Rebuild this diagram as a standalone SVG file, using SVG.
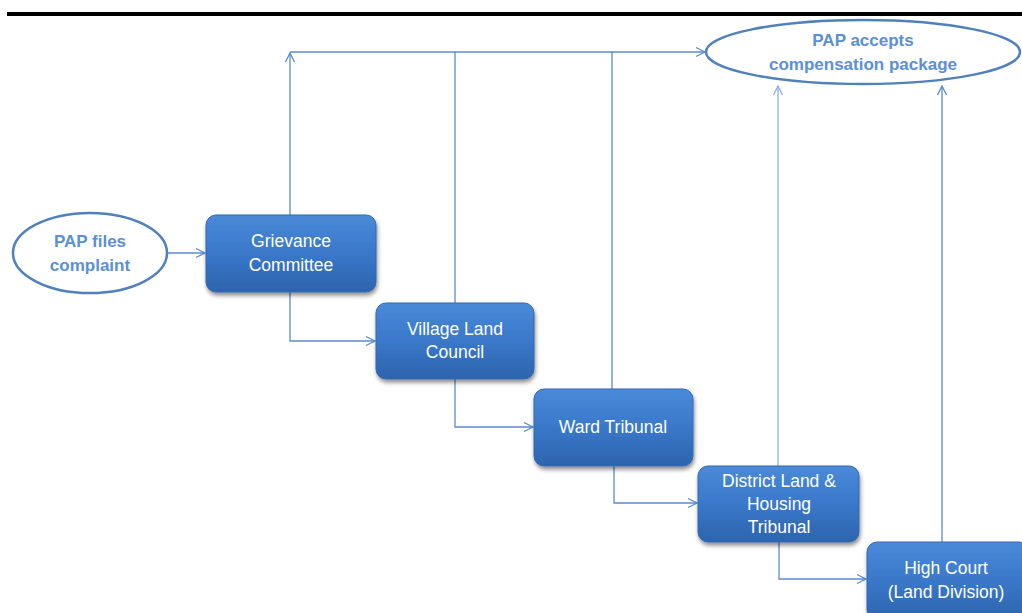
<svg xmlns="http://www.w3.org/2000/svg" width="1022" height="613" viewBox="0 0 1022 613">
<style>
.box{fill:url(#bg);stroke:#3469ad;stroke-width:1;filter:url(#sh)}
.bt{font-family:"Liberation Sans",Arial,sans-serif;font-size:17.5px;fill:#ffffff;text-anchor:middle}
.et{font-family:"Liberation Sans",Arial,sans-serif;font-size:17px;font-weight:bold;fill:#5b8fd6;text-anchor:middle}
.ell{fill:#ffffff;stroke:#4f81bd;stroke-width:2.5}
.c{fill:none;stroke:#5b8bd0;stroke-width:1.3}
.cl{fill:none;stroke:#8fb0dc;stroke-width:1.3}
</style>
<defs>
<linearGradient id="bg" x1="0" y1="0" x2="0" y2="1">
<stop offset="0" stop-color="#4a8ad9"/>
<stop offset="0.5" stop-color="#3a78c9"/>
<stop offset="1" stop-color="#2c64ae"/>
</linearGradient>
<filter id="sh" x="-10%" y="-10%" width="125%" height="130%">
<feDropShadow dx="1" dy="3" stdDeviation="2" flood-color="#000000" flood-opacity="0.45"/>
</filter>
<marker id="ar" markerWidth="12" markerHeight="12" refX="10" refY="6" orient="auto" markerUnits="userSpaceOnUse">
<path d="M1,1.5 L10,6 L1,10.5" fill="none" stroke="#5b8bd0" stroke-width="1.3"/>
</marker>
<marker id="arl" markerWidth="12" markerHeight="12" refX="10" refY="6" orient="auto" markerUnits="userSpaceOnUse">
<path d="M1,1.5 L10,6 L1,10.5" fill="none" stroke="#8fb0dc" stroke-width="1.3"/>
</marker>
</defs>
<rect width="1022" height="613" fill="#ffffff"/>
<line x1="7" y1="14" x2="1022" y2="14" stroke="#000000" stroke-width="4"/>
<g id="connectors">
<path class="c" d="M290,215 L290,53" marker-end="url(#ar)"/>
<path class="c" d="M290,52 L705,52" marker-end="url(#ar)"/>
<path class="c" d="M455,303 L455,52"/>
<path class="c" d="M612,389 L612,52"/>
<path class="cl" d="M778,466 L778,86" marker-end="url(#arl)"/>
<path class="c" d="M942,542 L942,86" marker-end="url(#ar)"/>
<path class="c" d="M167,253 L205,253" marker-end="url(#ar)"/>
<path class="c" d="M290,292 L290,341 L375,341" marker-end="url(#ar)"/>
<path class="c" d="M455,379 L455,427 L533,427" marker-end="url(#ar)"/>
<path class="c" d="M614,466 L614,503 L697,503" marker-end="url(#ar)"/>
<path class="c" d="M779,542 L779,579 L866,579" marker-end="url(#ar)"/>
</g>
<g id="accept">
<ellipse class="ell" cx="863" cy="52" rx="157" ry="32"/>
<text class="et" x="863" y="46">PAP accepts</text>
<text class="et" x="863" y="70">compensation package</text>
</g>
<g id="files">
<ellipse class="ell" cx="90" cy="253" rx="77" ry="40"/>
<text class="et" x="90" y="247">PAP files</text>
<text class="et" x="90" y="271">complaint</text>
</g>
<g id="grievance">
<rect class="box" x="206" y="215" width="170" height="77" rx="10"/>
<text class="bt" x="291" y="247">Grievance</text>
<text class="bt" x="291" y="271">Committee</text>
</g>
<g id="village">
<rect class="box" x="376" y="303" width="158" height="76" rx="10"/>
<text class="bt" x="455" y="335">Village Land</text>
<text class="bt" x="455" y="358">Council</text>
</g>
<g id="ward">
<rect class="box" x="534" y="389" width="159" height="77" rx="10"/>
<text class="bt" x="613" y="433">Ward Tribunal</text>
</g>
<g id="district">
<rect class="box" x="698" y="466" width="161" height="76" rx="10"/>
<text class="bt" x="779" y="487">District Land &amp;</text>
<text class="bt" x="779" y="510">Housing</text>
<text class="bt" x="779" y="533">Tribunal</text>
</g>
<g id="highcourt">
<rect class="box" x="867" y="542" width="162" height="78" rx="10"/>
<text class="bt" x="946" y="574">High Court</text>
<text class="bt" x="946" y="598">(Land Division)</text>
</g>
</svg>
